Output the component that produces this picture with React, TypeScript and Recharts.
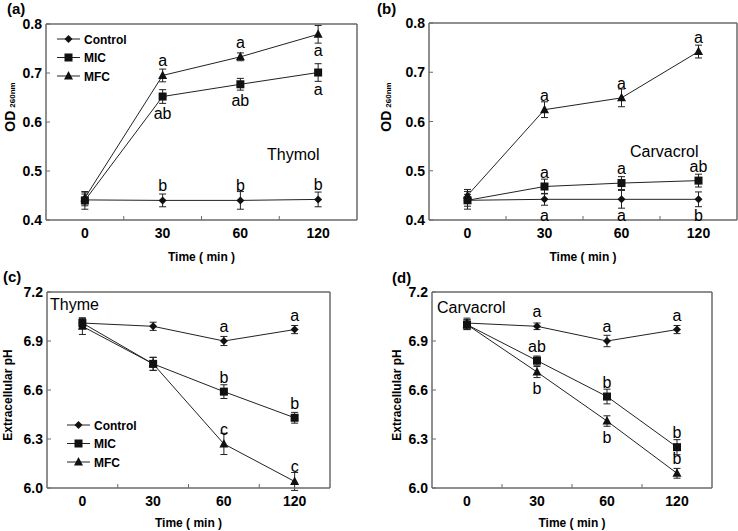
import React from 'react';
import { LineChart, Line, XAxis, YAxis, ErrorBar, ReferenceLine, Legend, LabelList } from 'recharts';

const FONT = '"Liberation Sans", Arial, Helvetica, sans-serif';
const FRAME = '#6a6a6a';
const INK = '#111';
const LINE = '#222';

// x categories (min)
const times = ['0', '30', '60', '120'];
const seriesNames = ['Control', 'MIC', 'MFC'];
const seriesKeys = ['c', 'm', 'f'];
const shapes = ['diamond', 'square', 'triangle'];

// (a) Thymol, OD 260nm
const thymolControl = [0.441, 0.44, 0.44, 0.442];
const thymolControlErr = [0.012, 0.013, 0.018, 0.015];
const thymolMIC = [0.44, 0.652, 0.677, 0.701];
const thymolMICErr = [0.018, 0.014, 0.012, 0.018];
const thymolMFC = [0.445, 0.695, 0.733, 0.779];
const thymolMFCErr = [0.012, 0.013, 0.008, 0.018];
const thymolLetters = [['', 'b', 'b', 'b'], ['', 'ab', 'ab', 'a'], ['', 'a', 'a', 'a']];
const thymolSides = [['', 'up', 'up', 'up'], ['', 'dn', 'dn', 'dn'], ['', 'up', 'up', 'dn']];

// (b) Carvacrol, OD 260nm
const carvControl = [0.44, 0.442, 0.442, 0.442];
const carvControlErr = [0.012, 0.012, 0.018, 0.015];
const carvMIC = [0.44, 0.468, 0.475, 0.48];
const carvMICErr = [0.018, 0.015, 0.013, 0.013];
const carvMFC = [0.45, 0.624, 0.648, 0.742];
const carvMFCErr = [0.012, 0.016, 0.018, 0.013];
const carvLetters = [['', 'a', 'a', 'b'], ['', 'a', 'a', 'ab'], ['', 'a', 'a', 'a']];
const carvSides = [['', 'dn', 'dn', 'dn'], ['', 'up', 'up', 'up'], ['', 'up', 'up', 'up']];

// (c) Thyme, extracellular pH
const thymeControl = [7.01, 6.99, 6.9, 6.97];
const thymeControlErr = [0.03, 0.025, 0.028, 0.025];
const thymeMIC = [7.01, 6.76, 6.59, 6.43];
const thymeMICErr = [0.03, 0.04, 0.042, 0.033];
const thymeMFC = [6.99, 6.76, 6.27, 6.04];
const thymeMFCErr = [0.05, 0.04, 0.065, 0.055];
const thymeLetters = [['', '', 'a', 'a'], ['', '', 'b', 'b'], ['', '', 'c', 'c']];
const thymeSides = [['', '', 'up', 'up'], ['', '', 'up', 'up'], ['', '', 'up', 'up']];

// (d) Carvacrol, extracellular pH
const carvPhControl = [7.01, 6.99, 6.9, 6.97];
const carvPhControlErr = [0.03, 0.02, 0.035, 0.025];
const carvPhMIC = [7.0, 6.78, 6.56, 6.25];
const carvPhMICErr = [0.03, 0.028, 0.045, 0.046];
const carvPhMFC = [7.0, 6.71, 6.41, 6.09];
const carvPhMFCErr = [0.03, 0.034, 0.032, 0.03];
const carvPhLetters = [['', 'a', 'a', 'a'], ['', 'ab', 'b', 'b'], ['', 'b', 'b', 'b']];
const carvPhSides = [['', 'up', 'up', 'up'], ['', 'up', 'up', 'up'], ['', 'dn', 'dn', 'up']];

const odTicks = [0.4, 0.5, 0.6, 0.7, 0.8];
const phTicks = [6.0, 6.3, 6.6, 6.9, 7.2];
const xTicks = [0.5, 1, 1.5, 2, 2.5, 3, 3.5];

function Marker({ cx, cy, shape }: any) {
  if (cx == null || cy == null) return null;
  if (shape === 'diamond') {
    return <polygon points={`${cx},${cy - 4} ${cx + 4},${cy} ${cx},${cy + 4} ${cx - 4},${cy}`} fill={INK} />;
  }
  if (shape === 'square') {
    return <rect x={cx - 4} y={cy - 4} width={8} height={8} fill={INK} />;
  }
  return <polygon points={`${cx},${cy - 5} ${cx + 4.5},${cy + 3.5} ${cx - 4.5},${cy + 3.5}`} fill={INK} />;
}

function XTick(props: any) {
  const { x, y, payload } = props;
  const v = payload.value;
  if (Number.isInteger(v)) {
    return <line x1={x} x2={x} y1={y} y2={y - 4} stroke={FRAME} strokeWidth={1} />;
  }
  return (
    <text x={x} y={y + 18} textAnchor="middle" fontFamily={FONT} fontSize={14} fontWeight="bold" fill="#000">
      {times[Math.floor(v)]}
    </text>
  );
}

function YTick(props: any) {
  const { x, y, payload } = props;
  return (
    <g>
      <line x1={x} x2={x + 4} y1={y} y2={y} stroke={FRAME} strokeWidth={1} />
      <text x={x - 4} y={y + 5} textAnchor="end" fontFamily={FONT} fontSize={14} fontWeight="bold" fill="#000">
        {Number(payload.value).toFixed(1)}
      </text>
    </g>
  );
}

function Letter(props: any) {
  const { value, shift } = props;
  if (!value) return null;
  const vb = props.viewBox || props;
  const x = (vb.x ?? props.x) + (vb.width || 0) / 2;
  const y = (vb.y ?? props.y) + (vb.height || 0) / 2;
  return (
    <text x={x} y={y + shift} textAnchor="middle" fontFamily={FONT} fontSize={16} fill="#000">
      {value}
    </text>
  );
}

function LegendBox(props: any) {
  const items = [...(props.payload || [])].sort(
    (a: any, b: any) => seriesNames.indexOf(a.value) - seriesNames.indexOf(b.value)
  );
  return (
    <svg width={90} height={58} style={{ display: 'block', overflow: 'visible' }}>
      {items.map((it: any, i: number) => {
        const cy = 9 + i * 18.5;
        const s = seriesNames.indexOf(it.value);
        return (
          <g key={it.value}>
            <line x1={1} x2={24} y1={cy} y2={cy} stroke={LINE} strokeWidth={1} />
            <Marker cx={12.5} cy={cy} shape={shapes[s]} />
            <text x={28} y={cy + 4.5} fontFamily={FONT} fontSize={12} fontWeight="bold" fill="#000">
              {it.value}
            </text>
          </g>
        );
      })}
    </svg>
  );
}

function OdTitle({ bx }: { bx: number }) {
  return (
    <text transform={`translate(${bx},107) rotate(-90)`} textAnchor="middle" fontFamily={FONT} fontWeight="bold" fill="#000">
      <tspan fontSize={14}>OD</tspan>
      <tspan fontSize={8} dx={3}>260nm</tspan>
    </text>
  );
}

function PhTitle({ bx }: { bx: number }) {
  return (
    <text transform={`translate(${bx},135) rotate(-90)`} textAnchor="middle" fontFamily={FONT} fontSize={12} fontWeight="bold" fill="#000">
      Extracellular pH
    </text>
  );
}

function Panel({ spec }: any) {
  const rows = times.map((t, i) => {
    const row: any = { pos: i + 0.5, time: t };
    seriesKeys.forEach((k, s) => {
      row[k] = spec.values[s][i];
      row[`${k}Err`] = spec.errors[s][i];
      row[`${k}Up`] = spec.sides[s][i] === 'up' ? spec.letters[s][i] : '';
      row[`${k}Dn`] = spec.sides[s][i] === 'dn' ? spec.letters[s][i] : '';
    });
    return row;
  });
  const order = [0, 2, 1];
  return (
    <div style={{ position: 'absolute', left: spec.left, top: spec.top }}>
      <LineChart width={spec.width} height={spec.height} data={rows} margin={spec.margin}>
        <XAxis
          type="number"
          dataKey="pos"
          domain={[0, 4]}
          ticks={xTicks}
          interval={0}
          height={spec.xh}
          tickLine={false}
          tickSize={0}
          tickMargin={0}
          tick={<XTick />}
          axisLine={{ stroke: FRAME, strokeWidth: 1.5 }}
          allowDataOverflow
          label={{ value: 'Time ( min )', position: 'insideBottom', offset: 4, fontFamily: FONT, fontSize: 12, fontWeight: 'bold', fill: '#000' }}
        />
        <YAxis
          type="number"
          domain={spec.domain}
          ticks={spec.ticks}
          interval={0}
          width={spec.yw}
          tickLine={false}
          tickSize={0}
          tickMargin={0}
          tick={<YTick />}
          axisLine={{ stroke: FRAME, strokeWidth: 1.5 }}
          allowDataOverflow
          label={{ content: () => spec.yTitle }}
        />
        <ReferenceLine y={spec.domain[1]} stroke={FRAME} strokeWidth={1.5} />
        <ReferenceLine x={4} stroke={FRAME} strokeWidth={1.5} />
        {order.map((s) => {
          const k = seriesKeys[s];
          return (
            <Line
              key={k}
              dataKey={k}
              name={seriesNames[s]}
              type="linear"
              stroke={LINE}
              strokeWidth={1}
              isAnimationActive={false}
              activeDot={false}
              dot={(p: any) => <Marker key={`${k}-${p.index}`} cx={p.cx} cy={p.cy} shape={shapes[s]} />}
            >
              <ErrorBar dataKey={`${k}Err`} direction="y" width={3.5} stroke={LINE} strokeWidth={1} isAnimationActive={false} />
              <LabelList dataKey={`${k}Up`} content={(p: any) => <Letter {...p} shift={-9} />} />
              <LabelList dataKey={`${k}Dn`} content={(p: any) => <Letter {...p} shift={22} />} />
            </Line>
          );
        })}
        {spec.legend ? (
          <Legend
            layout="vertical"
            align="center"
            verticalAlign="middle"
            content={<LegendBox />}
            wrapperStyle={{ left: spec.legend.left, top: spec.legend.top, width: 90, height: 58, right: 'auto', bottom: 'auto' }}
          />
        ) : null}
      </LineChart>
    </div>
  );
}

const panels = [
  {
    left: 0, top: 0, width: 369, height: 265,
    margin: { top: 24, right: 12, bottom: 0, left: 0 }, yw: 46, xh: 45,
    domain: [0.4, 0.8], ticks: odTicks,
    values: [thymolControl, thymolMIC, thymolMFC],
    errors: [thymolControlErr, thymolMICErr, thymolMFCErr],
    letters: thymolLetters, sides: thymolSides,
    yTitle: <OdTitle bx={15} />,
    legend: { left: 56, top: 30 },
  },
  {
    left: 369, top: 0, width: 369, height: 265,
    margin: { top: 23, right: 1, bottom: 0, left: 0 }, yw: 60, xh: 45,
    domain: [0.4, 0.8], ticks: odTicks,
    values: [carvControl, carvMIC, carvMFC],
    errors: [carvControlErr, carvMICErr, carvMFCErr],
    letters: carvLetters, sides: carvSides,
    yTitle: <OdTitle bx={22} />,
  },
  {
    left: 0, top: 260, width: 369, height: 271,
    margin: { top: 32, right: 39, bottom: 0, left: 0 }, yw: 47, xh: 43,
    domain: [6.0, 7.2], ticks: phTicks,
    values: [thymeControl, thymeMIC, thymeMFC],
    errors: [thymeControlErr, thymeMICErr, thymeMFCErr],
    letters: thymeLetters, sides: thymeSides,
    yTitle: <PhTitle bx={12} />,
    legend: { left: 66, top: 156 },
  },
  {
    left: 369, top: 260, width: 369, height: 271,
    margin: { top: 32, right: 26, bottom: 0, left: 0 }, yw: 63, xh: 43,
    domain: [6.0, 7.2], ticks: phTicks,
    values: [carvPhControl, carvPhMIC, carvPhMFC],
    errors: [carvPhControlErr, carvPhMICErr, carvPhMFCErr],
    letters: carvPhLetters, sides: carvPhSides,
    yTitle: <PhTitle bx={32} />,
  },
];

const notes = [
  { text: '(a)', x: 7, y: 14, size: 15, bold: true },
  { text: '(b)', x: 377, y: 14, size: 15, bold: true },
  { text: '(c)', x: 3, y: 282, size: 15, bold: true },
  { text: '(d)', x: 392, y: 283, size: 15, bold: true },
  { text: 'Thymol', x: 267, y: 160, size: 16, bold: false },
  { text: 'Carvacrol', x: 630, y: 157, size: 16, bold: false },
  { text: 'Thyme', x: 50, y: 310, size: 16, bold: false },
  { text: 'Carvacrol', x: 437, y: 313, size: 16, bold: false },
];

export default function App() {
  return (
    <div style={{ position: 'absolute', left: 0, top: 0, width: 738, height: 531, background: '#fff', fontFamily: FONT }}>
      {panels.map((p, i) => (
        <Panel key={i} spec={p} />
      ))}
      <svg width={738} height={531} style={{ position: 'absolute', left: 0, top: 0, pointerEvents: 'none' }}>
        {notes.map((n, i) => (
          <text key={i} x={n.x} y={n.y} fontFamily={FONT} fontSize={n.size} fontWeight={n.bold ? 'bold' : 'normal'} fill="#000">
            {n.text}
          </text>
        ))}
      </svg>
    </div>
  );
}
